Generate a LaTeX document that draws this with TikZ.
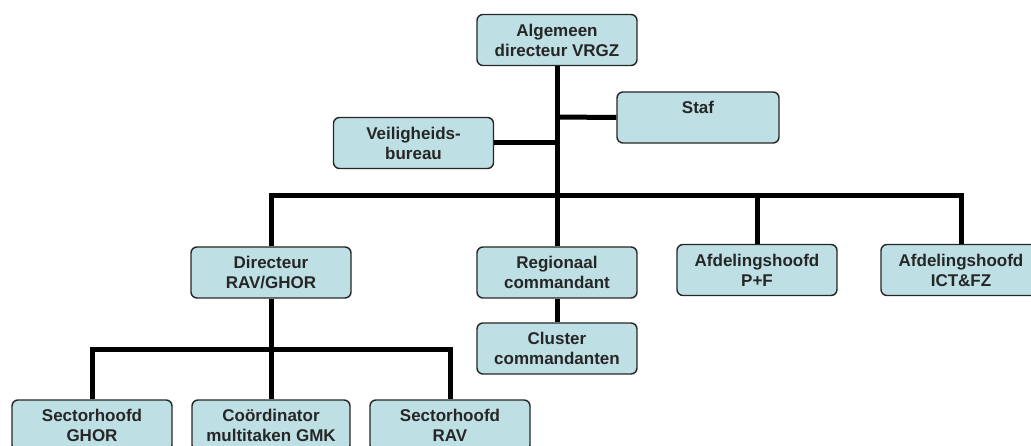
\documentclass[tikz,border=0pt]{standalone}
\usepackage{fontspec}
\setmainfont{Liberation Sans}
\pgfdeclarelayer{bg}
\pgfsetlayers{bg,main}
\begin{document}
\begin{tikzpicture}[x=1pt,y=-1pt,
  box/.style={draw=black!85, line width=1.4pt, rounded corners=6pt, fill=boxfill,
    minimum width=160pt, minimum height=51pt, inner sep=0pt, align=center,
    font=\fontsize{17}{20}\selectfont\bfseries, text=black!85},
  conn/.style={line width=5pt, draw=black}]
\definecolor{boxfill}{RGB}{190,224,228}
\useasboundingbox (0,0) rectangle (1031,446);
\clip (0,0) rectangle (1031,446);
% junction coordinates
\coordinate (j1) at (557,196);
\coordinate (js) at (557,117);
\coordinate (jv) at (557,143);
\coordinate (j2) at (271,350);
% boxes
\path
  (557,40)    node[box] (top) {Algemeen\\directeur VRGZ}
  (698,117.5) node[box, minimum width=162pt] (staf) {Staf\\\mbox{}}
  (413.5,143) node[box] (veil) {Veiligheids-\\bureau}
  (271,272.5) node[box] (dir) {Directeur\\RAV/GHOR}
  (557,272.5) node[box] (reg) {Regionaal\\commandant}
  (757,270)   node[box] (pf) {Afdelingshoofd\\P+F}
  (961,270)   node[box] (ict) {Afdelingshoofd\\ICT\&FZ}
  (557,348.5) node[box] (cluster) {Cluster\\commandanten}
  (92,425.5)  node[box] (ghor) {Sectorhoofd\\GHOR}
  (271,425.5) node[box, minimum width=158pt] (gmk) {Coördinator\\multitaken GMK}
  (450,425.5) node[box] (rav) {Sectorhoofd\\RAV};
% connectors behind the boxes
\begin{pgfonlayer}{bg}
\draw[conn] (top.south) -- (j1);
\draw[conn] (js) -- (staf.west);
\draw[conn] (veil.east) -- (jv);
\draw[conn] (dir.north) |- (j1) -| (ict.north);
\draw[conn] (j1) -- (reg.north);
\draw[conn] (pf.north) -- (pf.north |- j1);
\draw[conn] (reg.south) -- (cluster.north);
\draw[conn] (dir.south) -- (j2);
\draw[conn] (ghor.north) |- (j2) -| (rav.north);
\draw[conn] (j2) -- (gmk.north);
\end{pgfonlayer}
\end{tikzpicture}
\end{document}
